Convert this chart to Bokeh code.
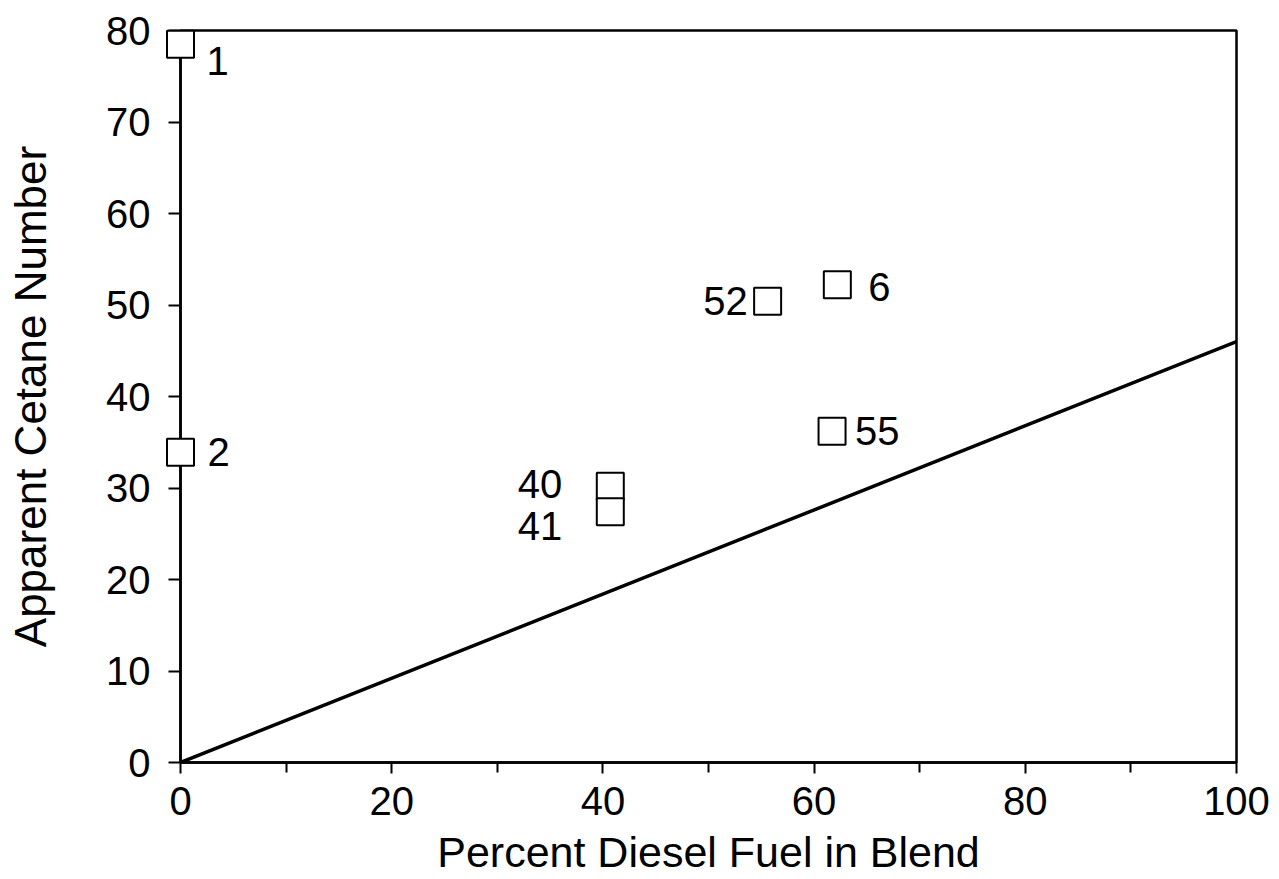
from bokeh.plotting import figure
from bokeh.models import ColumnDataSource, LabelSet, Range1d, FixedTicker
from bokeh.embed import file_html
from bokeh.resources import INLINE
from bokeh.core.properties import value

# ---- data ----
run_ids = ["1", "2", "40", "41", "52", "6", "55"]
diesel_pct = [0, 0, 40.7, 40.7, 55.6, 62.2, 61.7]
apparent_cetane = [78.5, 33.9, 30.2, 27.4, 50.4, 52.2, 36.2]

ideal_x = [0, 100]
ideal_y = [0, 46]

x_major_ticks = [0, 20, 40, 60, 80, 100]
x_minor_ticks = [10, 30, 50, 70, 90]
y_major_ticks = [0, 10, 20, 30, 40, 50, 60, 70, 80]

# label placement (styles, screen pixels)
label_dx = [26, 27, -48, -48, -20, 31, 23]
label_dy = [-17, 0, 2, -14, 0, -2, 0]
label_align = ["left", "left", "right", "right", "right", "left", "left"]

FONT = "Liberation Sans"

p = figure(width=1279, height=879, output_backend="svg", toolbar_location=None,
           x_range=Range1d(0, 100), y_range=Range1d(0, 80),
           min_border_left=180, min_border_right=43, min_border_top=30, min_border_bottom=117,
           background_fill_color="white", border_fill_color="white")

p.xgrid.visible = False
p.ygrid.visible = False
p.outline_line_color = "black"
p.outline_line_width = 2.5

xa = p.xaxis[0]
xa.ticker = FixedTicker(ticks=x_major_ticks, minor_ticks=x_minor_ticks)
xa.axis_label = "Percent Diesel Fuel in Blend"
xa.axis_label_text_font = FONT
xa.axis_label_text_font_size = "43px"
xa.axis_label_text_font_style = "normal"
xa.axis_label_text_color = "black"
xa.axis_label_standoff = 10
xa.major_label_text_font = FONT
xa.major_label_text_font_size = "40px"
xa.major_label_text_color = "black"
xa.major_label_standoff = 13
xa.major_tick_out = 11
xa.major_tick_in = 0
xa.minor_tick_out = 10
xa.minor_tick_in = 0
xa.axis_line_width = 2.5
xa.major_tick_line_width = 2
xa.minor_tick_line_width = 2
xa.axis_line_color = "black"
xa.major_tick_line_color = "black"
xa.minor_tick_line_color = "black"

ya = p.yaxis[0]
ya.ticker = FixedTicker(ticks=y_major_ticks, minor_ticks=[])
ya.axis_label = "Apparent Cetane Number"
ya.axis_label_text_font = FONT
ya.axis_label_text_font_size = "44px"
ya.axis_label_text_font_style = "normal"
ya.axis_label_text_color = "black"
ya.axis_label_standoff = 48
ya.major_label_text_font = FONT
ya.major_label_text_font_size = "40px"
ya.major_label_text_color = "black"
ya.major_label_standoff = 18
ya.major_label_orientation = "horizontal"
ya.major_tick_out = 12
ya.major_tick_in = 0
ya.minor_tick_out = 0
ya.minor_tick_in = 0
ya.axis_line_width = 2.5
ya.major_tick_line_width = 2
ya.axis_line_color = "black"
ya.major_tick_line_color = "black"

# reference line
p.line(ideal_x, ideal_y, line_color="black", line_width=3.5)

src = ColumnDataSource(dict(x=diesel_pct, y=apparent_cetane, label=run_ids,
                            dx=label_dx, dy=label_dy, align=label_align))

p.scatter("x", "y", source=src, marker="square", size=27,
          fill_color="white", line_color="black", line_width=2, level="overlay")

labels = LabelSet(x="x", y="y", text="label", source=src,
                  x_offset="dx", y_offset="dy", text_align="align",
                  text_baseline="middle", text_font=value(FONT),
                  text_font_size="40px", text_color="black", level="overlay")
p.add_layout(labels)

open("out.html", "w").write(file_html(p, INLINE))
